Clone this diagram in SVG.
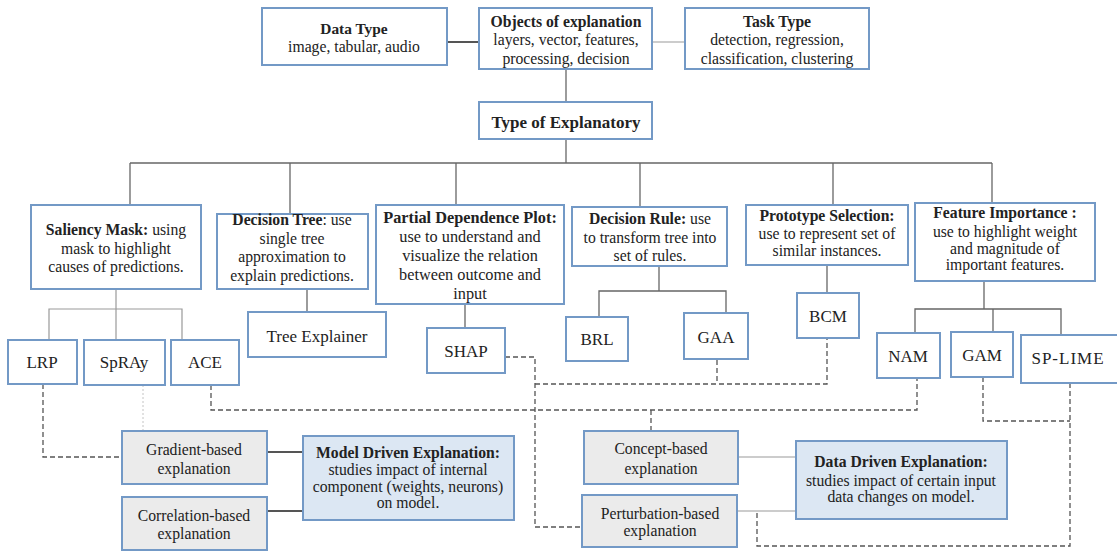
<svg xmlns="http://www.w3.org/2000/svg" width="1117" height="552" viewBox="0 0 1117 552" font-family="'Liberation Serif', 'DejaVu Serif', serif">
  <style>
    text { font-family: "Liberation Serif", "DejaVu Serif", serif; font-size: 15.7px; fill: #222; text-anchor: middle; }
    .b { font-weight: bold; }
    .pdp { font-size: 16.3px; }
    .m { font-size: 17px; }
    .box { fill: #ffffff; stroke: #7399c6; stroke-width: 2; }
    .gbox { fill: #ebebeb; stroke: #7399c6; stroke-width: 2; }
    .dbox { fill: #dce7f3; stroke: #7399c6; stroke-width: 2; }
    .ln { fill: none; stroke: #666; stroke-width: 1.3; }
    .lnl { fill: none; stroke: #999; stroke-width: 1.2; }
    .lnd { fill: none; stroke: #555; stroke-width: 2; }
    .dash { fill: none; stroke: #555; stroke-width: 1.3; stroke-dasharray: 5 3; }
    .dot { fill: none; stroke: #c4c4c4; stroke-width: 1; stroke-dasharray: 2 2; }
  </style>
  <rect width="1117" height="552" fill="#ffffff"/>

  <!-- connectors -->
  <g id="connectors">
    <!-- top row -->
    <line class="lnd" x1="447" y1="42" x2="479" y2="42"/>
    <line class="lnl" x1="652" y1="42" x2="685" y2="42"/>
    <line class="ln" x1="566" y1="69" x2="566" y2="102"/>
    <line class="ln" x1="566" y1="139" x2="566" y2="163"/>
    <!-- main branch bar -->
    <line class="ln" x1="130" y1="163" x2="992" y2="163"/>
    <line class="ln" x1="130" y1="163" x2="130" y2="205"/>
    <line class="ln" x1="290" y1="163" x2="290" y2="214"/>
    <line class="ln" x1="456" y1="163" x2="456" y2="205"/>
    <line class="ln" x1="640" y1="163" x2="640" y2="207"/>
    <line class="ln" x1="833" y1="163" x2="833" y2="205"/>
    <line class="ln" x1="992" y1="163" x2="992" y2="203"/>
    <!-- saliency mask children -->
    <line class="lnl" x1="116" y1="289" x2="116" y2="309"/>
    <polyline class="lnl" points="49,340 49,309 182,309 182,340"/>
    <line class="lnl" x1="116" y1="309" x2="116" y2="340"/>
    <!-- decision tree -->
    <line class="ln" x1="307" y1="289" x2="307" y2="312"/>
    <!-- partial dependence plot -->
    <line class="ln" x1="465" y1="304" x2="465" y2="328"/>
    <!-- decision rule -->
    <line class="ln" x1="659" y1="266" x2="659" y2="291"/>
    <polyline class="ln" points="599,317 599,291 726,291 726,313"/>
    <!-- prototype selection -->
    <line class="ln" x1="827" y1="265" x2="827" y2="293"/>
    <!-- feature importance -->
    <line class="ln" x1="984" y1="281" x2="984" y2="309"/>
    <polyline class="ln" points="915,333 915,309 1061,309 1061,335"/>
    <line class="ln" x1="993" y1="309" x2="993" y2="332"/>
    <!-- grouping lines -->
    <line class="lnd" x1="267" y1="452" x2="303" y2="452"/>
    <line class="lnd" x1="267" y1="511" x2="303" y2="511"/>
    <line class="lnl" x1="738" y1="457" x2="796" y2="457"/>
    <line class="lnl" x1="737" y1="511" x2="796" y2="511"/>
    <!-- dashed method links -->
    <polyline class="dash" points="43,384 43,457 122,457"/>
    <line class="dot" x1="143" y1="385" x2="143" y2="431"/>
    <polyline class="dash" points="211,385 211,410 917,410 917,378"/>
    <line class="dash" x1="651" y1="410" x2="651" y2="431"/>
    <polyline class="dash" points="505,357 535,357 535,527 582,527"/>
    <polyline class="dash" points="535,384 827,384 827,338"/>
    <line class="dash" x1="717" y1="360" x2="717" y2="384"/>
    <polyline class="dash" points="983,377 983,421 1070,421"/>
    <polyline class="dash" points="1070,383 1070,546 757,546 757,511"/>
  </g>

  <!-- top row -->
  <g id="data-type">
    <rect class="box" x="262" y="8" width="185" height="57"/>
    <text x="354" y="34" class="b" style="font-size:15.4px">Data Type</text>
    <text x="354" y="52">image, tabular, audio</text>
  </g>
  <g id="objects-of-explanation">
    <rect class="box" x="479" y="8" width="173" height="61"/>
    <text x="566" y="27" class="b">Objects of explanation</text>
    <text x="566" y="45">layers, vector, features,</text>
    <text x="566" y="64">processing, decision</text>
  </g>
  <g id="task-type">
    <rect class="box" x="685" y="8" width="184" height="61"/>
    <text x="777" y="27" class="b">Task Type</text>
    <text x="777" y="45">detection, regression,</text>
    <text x="777" y="64">classification, clustering</text>
  </g>
  <g id="type-of-explanatory">
    <rect class="box" x="479" y="102" width="173" height="37"/>
    <text x="566" y="128" class="b" style="font-size:17px">Type of Explanatory</text>
  </g>

  <!-- explanatory types -->
  <g id="saliency-mask">
    <rect class="box" x="31" y="205" width="170" height="84"/>
    <text x="116" y="235"><tspan class="b">Saliency Mask:</tspan> using</text>
    <text x="116" y="254">mask to highlight</text>
    <text x="116" y="272">causes of predictions.</text>
  </g>
  <g id="decision-tree">
    <rect class="box" x="217" y="214" width="151" height="75"/>
    <text x="292" y="225"><tspan class="b">Decision Tree</tspan>: use</text>
    <text x="292" y="244">single tree</text>
    <text x="292" y="262">approximation to</text>
    <text x="292" y="281">explain predictions.</text>
  </g>
  <g id="partial-dependence-plot">
    <rect class="box" x="376" y="205" width="188" height="99"/>
    <text x="470" y="223" class="b pdp">Partial Dependence Plot:</text>
    <text x="470" y="242" class="pdp">use to understand and</text>
    <text x="470" y="261" class="pdp">visualize the relation</text>
    <text x="470" y="280" class="pdp">between outcome and</text>
    <text x="470" y="299" class="pdp">input</text>
  </g>
  <g id="decision-rule">
    <rect class="box" x="572" y="207" width="155" height="59"/>
    <text x="650" y="224"><tspan class="b">Decision Rule:</tspan> use</text>
    <text x="650" y="243">to transform tree into</text>
    <text x="650" y="261">set of rules.</text>
  </g>
  <g id="prototype-selection">
    <rect class="box" x="746" y="205" width="162" height="60"/>
    <text x="827" y="221" class="b">Prototype Selection:</text>
    <text x="827" y="239">use to represent set of</text>
    <text x="827" y="256">similar instances.</text>
  </g>
  <g id="feature-importance">
    <rect class="box" x="915" y="203" width="180" height="78"/>
    <text x="1005" y="218" class="b">Feature Importance :</text>
    <text x="1005" y="237">use to highlight weight</text>
    <text x="1005" y="254">and magnitude of</text>
    <text x="1005" y="270">important features.</text>
  </g>

  <!-- methods -->
  <g id="lrp">
    <rect class="box" x="8" y="340" width="69" height="44"/>
    <text x="42" y="368" class="m">LRP</text>
  </g>
  <g id="spray">
    <rect class="box" x="84" y="340" width="81" height="45"/>
    <text x="124" y="368" class="m">SpRAy</text>
  </g>
  <g id="ace">
    <rect class="box" x="171" y="340" width="68" height="45"/>
    <text x="205" y="368" class="m">ACE</text>
  </g>
  <g id="tree-explainer">
    <rect class="box" x="248" y="312" width="138" height="45"/>
    <text x="317" y="342" class="m">Tree Explainer</text>
  </g>
  <g id="shap">
    <rect class="box" x="427" y="328" width="78" height="45"/>
    <text x="466" y="357" class="m">SHAP</text>
  </g>
  <g id="brl">
    <rect class="box" x="566" y="317" width="62" height="44"/>
    <text x="597" y="345" class="m">BRL</text>
  </g>
  <g id="gaa">
    <rect class="box" x="684" y="313" width="64" height="46"/>
    <text x="716" y="343" class="m">GAA</text>
  </g>
  <g id="bcm">
    <rect class="box" x="797" y="293" width="62" height="45"/>
    <text x="828" y="322" class="m">BCM</text>
  </g>
  <g id="nam">
    <rect class="box" x="877" y="333" width="63" height="45"/>
    <text x="908" y="362" class="m">NAM</text>
  </g>
  <g id="gam">
    <rect class="box" x="951" y="332" width="62" height="45"/>
    <text x="982" y="361" class="m">GAM</text>
  </g>
  <g id="sp-lime">
    <rect class="box" x="1021" y="335" width="100" height="48"/>
    <text x="1068" y="364" class="m" letter-spacing="1">SP-LIME</text>
  </g>

  <!-- explanation families -->
  <g id="gradient-based">
    <rect class="gbox" x="122" y="431" width="145" height="53"/>
    <text x="194" y="455">Gradient-based</text>
    <text x="194" y="474">explanation</text>
  </g>
  <g id="correlation-based">
    <rect class="gbox" x="122" y="497" width="145" height="53"/>
    <text x="194" y="521">Correlation-based</text>
    <text x="194" y="539">explanation</text>
  </g>
  <g id="model-driven">
    <rect class="dbox" x="303" y="436" width="211" height="84"/>
    <text x="408" y="458" class="b">Model Driven Explanation:</text>
    <text x="408" y="475">studies impact of internal</text>
    <text x="408" y="492">component (weights, neurons)</text>
    <text x="408" y="508">on model.</text>
  </g>
  <g id="concept-based">
    <rect class="gbox" x="584" y="431" width="154" height="53"/>
    <text x="661" y="454">Concept-based</text>
    <text x="661" y="474">explanation</text>
  </g>
  <g id="perturbation-based">
    <rect class="gbox" x="582" y="495" width="155" height="52"/>
    <text x="660" y="519">Perturbation-based</text>
    <text x="660" y="536">explanation</text>
  </g>
  <g id="data-driven">
    <rect class="dbox" x="796" y="441" width="211" height="78"/>
    <text x="901" y="467" class="b">Data Driven Explanation:</text>
    <text x="901" y="486">studies impact of certain input</text>
    <text x="901" y="502">data changes on model.</text>
  </g>
</svg>
